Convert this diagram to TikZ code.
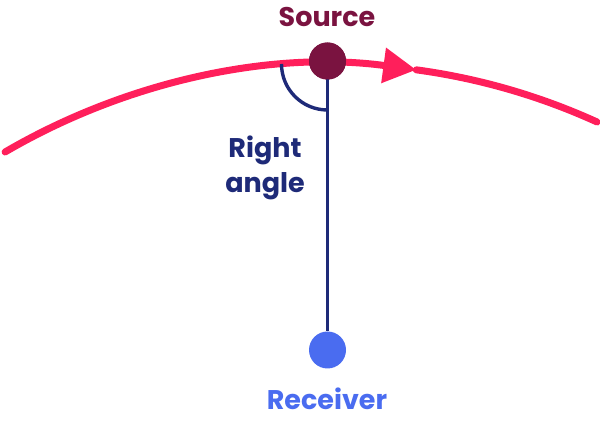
\documentclass[tikz,border=0pt]{standalone}
\usepackage{fontspec}
\setmainfont{Poppins}
\usetikzlibrary{arrows.meta,calc}
\definecolor{orbit}{HTML}{FF1F5B}
\definecolor{srccol}{HTML}{7A1340}
\definecolor{navy}{HTML}{1E2A78}
\definecolor{rcvcol}{HTML}{4A6CF0}
\tikzset{%
  dot/.style={circle,inner sep=0pt,minimum size=37pt},
  lbl/.style={font=\fontsize{27}{35}\selectfont\bfseries,inner sep=0pt},
  path line/.style={line width=7pt,draw=orbit,line cap=round},
  ray/.style={line width=3.4pt,draw=navy},
}
\begin{document}
\begin{tikzpicture}[x=1pt,y=1pt]
  \useasboundingbox (0,0) rectangle (600,422);
  \coordinate (O) at (330,-286);% centre of the big arc
  \coordinate (foot) at (327.5,358);% where the line meets the arc
  \coordinate (tip) at ($(O)+(82.3:644)$);% arrow tip
  % the path with its arrow
  \draw[path line,-{Triangle[length=33pt,width=34pt]}]
    (O) ++(120.3:644) arc[start angle=120.3,end angle=82.3,radius=644];
  \draw[path line] (tip) arc[start angle=82.3,end angle=65.5,radius=644];
  % source and receiver
  \node[dot,fill=srccol] (source) at (327.5,361) {};
  \node[dot,fill=rcvcol] (receiver) at (327.5,72) {};
  \draw[ray] (source.center) -- (receiver.north);
  \draw[ray] (foot) ++(180:46) arc[start angle=180,end angle=270,radius=46];
  \node[dot,fill=srccol] at (source) {};
  % labels
  \node[lbl,text=srccol,anchor=base] (src-label) at (327,395) {Source};
  \node[lbl,text=navy,align=center] (angle-label) at (265,254) {Right\\angle};
  \node[lbl,text=rcvcol,anchor=base] (rcv-label) at (327,12) {Receiver};
\end{tikzpicture}
\end{document}
